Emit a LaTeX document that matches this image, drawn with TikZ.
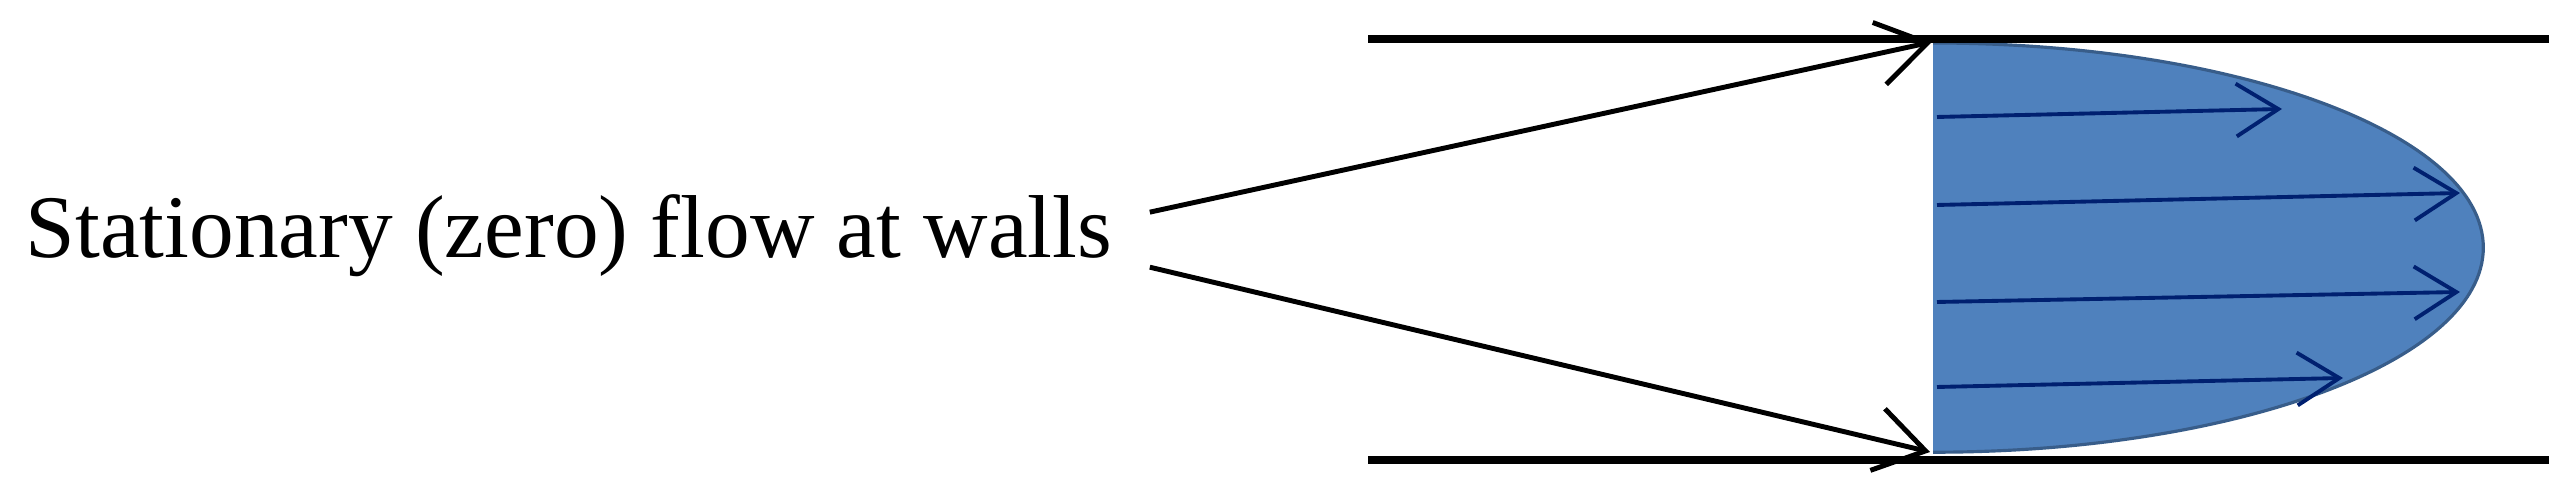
\documentclass[tikz,border=0pt]{standalone}
\usepackage{fontspec}
\setmainfont{Liberation Serif}
\usetikzlibrary{arrows.meta}

\definecolor{profileblue}{RGB}{79,129,189}
\definecolor{profileedge}{RGB}{56,93,138}
\definecolor{velnavy}{RGB}{0,32,112}

\begin{document}
\begin{tikzpicture}[
    x=0.01cm, y=0.01cm,
    wall/.style={line width=2.3pt, black},
    pointer/.style={line width=1.4pt, black, -{Straight Barb[length=14pt, width=18pt, line width=1.4pt]}},
    vel/.style={line width=1.1pt, velnavy, -{Straight Barb[length=12pt, width=15pt, line width=1.1pt]}}
]
    \useasboundingbox (0,0) rectangle (2568,489);

    % velocity profile
    \fill[profileblue] (1933,446) arc[start angle=90, end angle=-90, x radius=5.5cm, y radius=2.045cm] -- cycle;
    \draw[profileedge, line width=0.9pt] (1933,446) arc[start angle=90, end angle=-90, x radius=5.5cm, y radius=2.045cm];

    % pipe walls
    \coordinate (topL) at (1368,450);
    \coordinate (topR) at (2549,450);
    \coordinate (botL) at (1368,29);
    \coordinate (botR) at (2549,29);
    \draw[wall] (topL) -- (topR);
    \draw[wall] (botL) -- (botR);

    % velocity arrows
    \foreach \i/\ya/\xb/\yb in {1/372/2282/380, 2/284/2460/296, 3/187/2460/197, 4/102/2343/111}{
        \coordinate (v\i s) at (1937,\ya);
        \coordinate (v\i e) at (\xb,\yb);
        \draw[vel] (v\i s) -- (v\i e);
    }

    % label and pointers
    \node[anchor=base west, inner sep=0, font=\fontsize{25.4}{30}\selectfont] (label) at (25,231) {Stationary (zero) flow at walls};
    \coordinate (wallhitT) at (1932,447);
    \coordinate (wallhitB) at (1930,37);
    \draw[pointer] ([xshift=0.37cm, yshift=0.24cm]label.east) -- (wallhitT);
    \draw[pointer] ([xshift=0.37cm, yshift=-0.31cm]label.east) -- (wallhitB);
\end{tikzpicture}
\end{document}
